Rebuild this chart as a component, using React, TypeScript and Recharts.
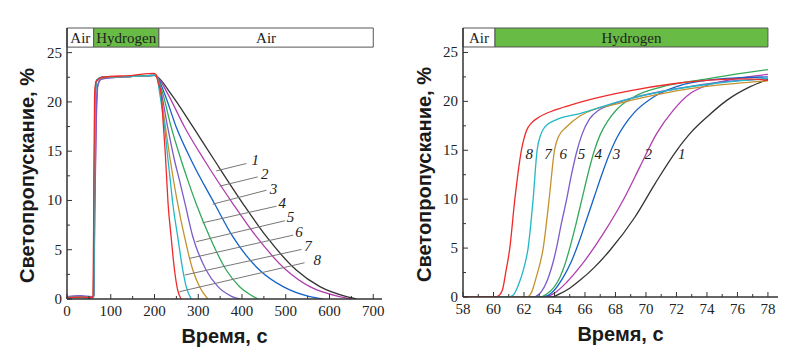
import React from "react";
import {
  LineChart,
  Line,
  XAxis,
  YAxis,
  ReferenceArea,
  ReferenceLine,
  ReferenceDot,
} from "recharts";

type Pt = [number, number];

// Left panel: full air -> hydrogen -> air cycle (time, s ; transmittance, %)
const cycle1: Pt[] = [[0, 0.15], [30, 0.2], [58, 0.15], [61, 0.3], [63, 12], [65, 21], [68, 22.2], [80, 22.5], [150, 22.6], [200, 22.7], [205, 22.6], [238, 20.8], [288, 17.46], [337, 14.08], [402, 9.69], [456, 6.32], [524, 2.94], [578, 1.25], [639, 0.24], [662, 0]];
const cycle2: Pt[] = [[0, 0.2], [30, 0.3], [58, 0.2], [61, 0.3], [64, 10], [67, 18], [71, 21.8], [80, 22.4], [150, 22.6], [200, 22.7], [205, 22.6], [230, 20.84], [268.6, 17.46], [314, 14.08], [379, 9.69], [433, 6.32], [501, 2.94], [555, 1.25], [623, 0.24], [650, 0]];
const cycle3: Pt[] = [[0, 0.2], [30, 0.15], [58, 0.15], [60.5, 0.3], [62.5, 12], [64.5, 21], [68, 22.2], [80, 22.5], [150, 22.6], [200, 22.7], [205, 22.6], [223, 20.84], [249.6, 17.46], [284, 14.08], [337, 9.69], [379, 6.32], [440, 2.94], [494, 1.25], [555, 0.24], [585, 0]];
const cycle4: Pt[] = [[0, 0.15], [30, 0.2], [58, 0.15], [60.5, 0.3], [62.5, 12], [64.5, 21], [67, 22.1], [80, 22.45], [150, 22.6], [200, 22.7], [205, 22.6], [219, 20.84], [238, 17.46], [261, 14.08], [276, 12.06], [295, 9.69], [326, 6.32], [364, 2.94], [394.5, 1.25], [420, 0.4], [437, 0]];
const cycle5: Pt[] = [[0, 0.25], [30, 0.35], [58, 0.25], [61, 0.3], [63.5, 10], [66.5, 18.5], [70, 21.6], [78, 22.3], [150, 22.6], [200, 22.7], [205, 22.6], [216, 20.84], [230, 17.46], [245.7, 14.08], [257, 12.06], [268.6, 9.9], [287.6, 6.32], [318, 2.94], [345, 1.25], [375, 0.3], [395, 0]];
const cycle6: Pt[] = [[0, 0.15], [30, 0.2], [58, 0.15], [60.5, 0.3], [62.5, 12], [64.5, 21], [67, 22.1], [80, 22.45], [150, 22.6], [200, 22.7], [205, 22.6], [214, 20.84], [225, 17.46], [236, 14.1], [244, 11.9], [253, 9.69], [268.6, 6.32], [287.6, 2.94], [303, 1.25], [322, 0]];
const cycle7: Pt[] = [[0, 0.15], [30, 0.15], [58, 0.15], [61, 0.3], [63, 12], [65, 21], [68, 22.2], [80, 22.5], [150, 22.6], [200, 22.7], [205, 22.6], [212, 20.84], [223, 17.46], [231, 14.08], [236, 12.06], [241.8, 9.69], [253, 6.32], [264.7, 2.94], [272.5, 1.25], [284, 0]];
const cycle8: Pt[] = [[0, 0.1], [30, 0.2], [57, 0.15], [59.5, 0.3], [61.5, 12], [63, 20.5], [66, 22], [80, 22.5], [150, 22.7], [198, 22.9], [203, 22.8], [208, 22], [215, 20.84], [220.5, 17.46], [225, 14.5], [228, 12.06], [231, 9.69], [238, 6.32], [245.7, 2.94], [253, 0.9], [261, 0]];

// Right panel: onset after hydrogen is let in
const onset1: Pt[] = [[58, 0], [63.8, 0], [64.3, 0.3], [65, 0.9], [65.67, 1.7], [66.6, 3], [67.64, 4.78], [69.28, 8.18], [70.6, 11.6], [72.02, 15], [73, 16.9], [74, 18.4], [75.3, 20.1], [76.84, 21.5], [78, 22.25]];
const onset2: Pt[] = [[58, 0], [63.3, 0], [64, 0.4], [64.8, 1.5], [65.67, 3.07], [67.2, 6.48], [68.5, 9.89], [69.6, 13.3], [70.7, 16.7], [71.8, 19.1], [72.9, 20.8], [73.77, 21.5], [75.5, 22.2], [78, 22.75]];
const onset3: Pt[] = [[58, 0], [63.2, 0], [63.8, 0.4], [64.57, 2], [65.1, 3.6], [65.6, 5.6], [66.1, 7.9], [66.6, 10.2], [67.1, 12.5], [67.6, 14.6], [68.1, 16.3], [68.6, 17.6], [69.2, 18.8], [70.5, 20.45], [72, 21.5], [74.2, 22.2], [78, 22.5]];
const onset4: Pt[] = [[58, 0], [63, 0], [63.5, 0.3], [64.35, 2], [64.7, 3.4], [65, 5], [65.4, 7.4], [65.8, 10], [66.2, 12.6], [66.6, 14.9], [67, 16.6], [67.5, 18], [68.1, 19.2], [69.2, 20.45], [71.1, 21.5], [74, 22.3], [76, 22.8], [78, 23.25]];
const onset5: Pt[] = [[58, 0], [62.6, 0], [63, 0.3], [63.6, 2], [63.9, 3.5], [64.13, 5], [64.45, 7.5], [64.8, 10], [65.1, 12.4], [65.45, 14.8], [65.8, 16.6], [66.3, 18.2], [66.9, 19.1], [67.6, 19.6], [69, 20.3], [72, 21.3], [75, 22], [78, 22.3]];
const onset6: Pt[] = [[58, 0], [62.2, 0], [62.5, 0.5], [62.8, 2], [63.26, 5], [63.65, 10], [64, 15], [64.3, 16.5], [64.8, 17.4], [65.67, 18.5], [68.5, 19.9], [71.4, 20.9], [74.4, 21.6], [78, 22.1]];
const onset7: Pt[] = [[58, 0], [61, 0], [61.3, 0.2], [61.7, 1.5], [62, 3], [62.27, 5], [62.6, 10], [62.86, 15], [63.1, 16.6], [63.37, 17.4], [64.1, 18.1], [65.67, 18.75], [68.5, 20.1], [71.36, 21.1], [74.4, 21.8], [78, 22.35]];
const onset8: Pt[] = [[58, 0], [60, 0], [60.3, 0.1], [60.6, 0.8], [60.8, 2.5], [61.07, 5], [61.4, 10], [61.83, 15], [62.16, 17], [62.5, 17.8], [63, 18.4], [64, 19.1], [65, 19.6], [66, 20.05], [69, 21.1], [71.8, 21.8], [74.4, 22.2], [76.5, 22.3], [78, 22.15]];

const cycleCurves = [cycle1, cycle2, cycle3, cycle4, cycle5, cycle6, cycle7, cycle8];
const onsetCurves = [onset1, onset2, onset3, onset4, onset5, onset6, onset7, onset8];
const curveNames = ["1", "2", "3", "4", "5", "6", "7", "8"];
const curveColors = ["#333333", "#b03fae", "#1462c8", "#33a85a", "#7a5ccb", "#c4922e", "#22b7c6", "#f02a2a"];

const cycleTicksX = [0, 50, 100, 150, 200, 250, 300, 350, 400, 450, 500, 550, 600, 650, 700];
const onsetTicksX = [58, 59, 60, 61, 62, 63, 64, 65, 66, 67, 68, 69, 70, 71, 72, 73, 74, 75, 76, 77, 78];
const ticksY = [0, 2.5, 5, 7.5, 10, 12.5, 15, 17.5, 20, 22.5, 25];

const cyclePhases = [
  { from: 0, to: 61, gas: "Air" },
  { from: 61, to: 210, gas: "Hydrogen" },
  { from: 210, to: 700, gas: "Air" },
];
const onsetPhases = [
  { from: 58, to: 60.1, gas: "Air" },
  { from: 60.1, to: 78, gas: "Hydrogen" },
];

// curve numbers and their leader lines (left panel)
const cycleTagPos: Pt[] = [[430, 14.15], [452, 12.73], [472, 11.2], [492, 9.76], [511, 8.28], [530, 6.82], [551, 5.37], [572, 3.95]];
const cycleLeaders: [Pt, Pt][] = [
  [[341, 13.0], [410, 13.75]],
  [[349, 11.45], [436, 12.39]],
  [[333, 9.62], [456, 11.04]],
  [[310, 7.73], [479, 9.42]],
  [[295, 5.81], [498, 7.94]],
  [[280, 4.12], [517, 6.48]],
  [[269, 2.43], [536, 5.03]],
  [[257, 0.74], [543, 3.68]],
];
const onsetTagX = [72.35, 70.15, 68.07, 66.87, 65.77, 64.57, 63.58, 62.34];
const onsetTagY = 14.6;

const SERIF = "'Liberation Serif', 'Times New Roman', serif";
const SANS = "'Liberation Sans', Arial, sans-serif";
const GAS_GREEN = "#68bc45";
const Y_TOP = 27.5;
const BAR_BOTTOM = 25.56;

const toRows = (pts: Pt[]) => pts.map(([t, v]) => ({ t, v }));
const isMajor = (v: number, step: number, base: number) =>
  Math.abs((v - base) / step - Math.round((v - base) / step)) < 1e-6;

// ticks point inward, labels outside
function XTick(props: any) {
  const { x, y, payload, step, base } = props;
  const major = isMajor(payload.value, step, base);
  return (
    <g>
      <line x1={x} x2={x} y1={y} y2={y - (major ? 5 : 3)} stroke="#333" strokeWidth={1} />
      {major && (
        <text x={x} y={y + 17} textAnchor="middle" fontFamily={SERIF} fontSize={15} fill="#222">
          {payload.value}
        </text>
      )}
    </g>
  );
}

function YTick(props: any) {
  const { x, y, payload } = props;
  const major = isMajor(payload.value, 5, 0);
  return (
    <g>
      <line x1={x} x2={x + (major ? 5 : 3)} y1={y} y2={y} stroke="#333" strokeWidth={1} />
      {major && (
        <text x={x - 5} y={y + 5} textAnchor="end" fontFamily={SERIF} fontSize={15} fill="#222">
          {payload.value}
        </text>
      )}
    </g>
  );
}

const xTitle = (p: any) => (
  <text
    x={p.viewBox.x + p.viewBox.width / 2}
    y={p.viewBox.y + 44}
    textAnchor="middle"
    fontFamily={SANS}
    fontWeight={700}
    fontSize={20}
    fill="#1a1a1a"
  >
    Время, с
  </text>
);

const yTitle = (cx: number) => (p: any) => {
  const cy = p.viewBox.y + p.viewBox.height / 2 + 12;
  return (
    <text
      x={cx}
      y={cy}
      transform={`rotate(-90 ${cx} ${cy})`}
      textAnchor="middle"
      dominantBaseline="central"
      fontFamily={SANS}
      fontWeight={700}
      fontSize={20}
      fill="#1a1a1a"
    >
      Светопропускание, %
    </text>
  );
};

const tag = (name: string) => (p: any) => (
  <text
    x={p.viewBox.x}
    y={p.viewBox.y + 5}
    textAnchor="middle"
    fontFamily={SERIF}
    fontStyle="italic"
    fontSize={15}
    fill="#222"
  >
    {name}
  </text>
);

function renderPhases(phases: { from: number; to: number; gas: string }[]) {
  return phases.map((ph, i) => (
    <ReferenceArea
      key={`ph${i}`}
      x1={ph.from}
      x2={ph.to}
      y1={BAR_BOTTOM}
      y2={Y_TOP}
      fill={ph.gas === "Hydrogen" ? GAS_GREEN : "#ffffff"}
      fillOpacity={1}
      stroke="#555"
      strokeWidth={1}
      ifOverflow="visible"
      label={{ value: ph.gas, position: "center", fill: "#222", fontSize: 15, fontFamily: SERIF }}
    />
  ));
}

function CycleChart() {
  return (
    <LineChart width={400} height={364} margin={{ top: 28, right: 18, bottom: 0, left: 0 }}>
      <XAxis
        dataKey="t"
        type="number"
        domain={[0, 720]}
        ticks={cycleTicksX}
        interval={0}
        allowDataOverflow
        height={65}
        tickSize={0}
        tickMargin={0}
        tickLine={false}
        axisLine={{ stroke: "#333", strokeWidth: 1.5 }}
        tick={(p: any) => <XTick {...p} step={100} base={0} />}
        label={{ content: xTitle }}
      />
      <YAxis
        type="number"
        domain={[0, Y_TOP]}
        ticks={ticksY}
        interval={0}
        allowDataOverflow
        width={67}
        tickSize={0}
        tickMargin={0}
        tickLine={false}
        axisLine={{ stroke: "#333", strokeWidth: 1.5 }}
        tick={(p: any) => <YTick {...p} />}
        label={{ content: yTitle(27) }}
      />
      {renderPhases(cyclePhases)}
      {cycleCurves.map((c, i) => (
        <Line
          key={curveNames[i]}
          data={toRows(c)}
          dataKey="v"
          type="monotone"
          stroke={curveColors[i]}
          strokeWidth={1.3}
          dot={false}
          isAnimationActive={false}
        />
      ))}
      {cycleLeaders.map(([a, b], i) => (
        <ReferenceLine
          key={`ld${i}`}
          segment={[{ x: a[0], y: a[1] }, { x: b[0], y: b[1] }]}
          stroke="#777"
          strokeWidth={1}
        />
      ))}
      {cycleTagPos.map(([x, y], i) => (
        <ReferenceDot
          key={`tg${i}`}
          x={x}
          y={y}
          r={0}
          fill="none"
          stroke="none"
          label={{ content: tag(curveNames[i]) }}
        />
      ))}
    </LineChart>
  );
}

function OnsetChart() {
  return (
    <LineChart width={400} height={364} margin={{ top: 28, right: 22, bottom: 0, left: 0 }}>
      <XAxis
        dataKey="t"
        type="number"
        domain={[58, 78.66]}
        ticks={onsetTicksX}
        interval={0}
        allowDataOverflow
        height={67}
        tickSize={0}
        tickMargin={0}
        tickLine={false}
        axisLine={{ stroke: "#333", strokeWidth: 1.5 }}
        tick={(p: any) => <XTick {...p} step={2} base={58} />}
        label={{ content: xTitle }}
      />
      <YAxis
        type="number"
        domain={[0, Y_TOP]}
        ticks={ticksY}
        interval={0}
        allowDataOverflow
        width={63}
        tickSize={0}
        tickMargin={0}
        tickLine={false}
        axisLine={{ stroke: "#333", strokeWidth: 1.5 }}
        tick={(p: any) => <YTick {...p} />}
        label={{ content: yTitle(24) }}
      />
      {renderPhases(onsetPhases)}
      {onsetCurves.map((c, i) => (
        <Line
          key={curveNames[i]}
          data={toRows(c)}
          dataKey="v"
          type="monotone"
          stroke={curveColors[i]}
          strokeWidth={1.3}
          dot={false}
          isAnimationActive={false}
        />
      ))}
      {onsetTagX.map((x, i) => (
        <ReferenceDot
          key={`tg${i}`}
          x={x}
          y={onsetTagY}
          r={0}
          fill="none"
          stroke="none"
          label={{ content: tag(curveNames[i]) }}
        />
      ))}
    </LineChart>
  );
}

export default function App() {
  return (
    <div style={{ position: "absolute", left: 0, top: 0, width: 800, height: 364, background: "#fff", display: "flex" }}>
      <CycleChart />
      <OnsetChart />
    </div>
  );
}
